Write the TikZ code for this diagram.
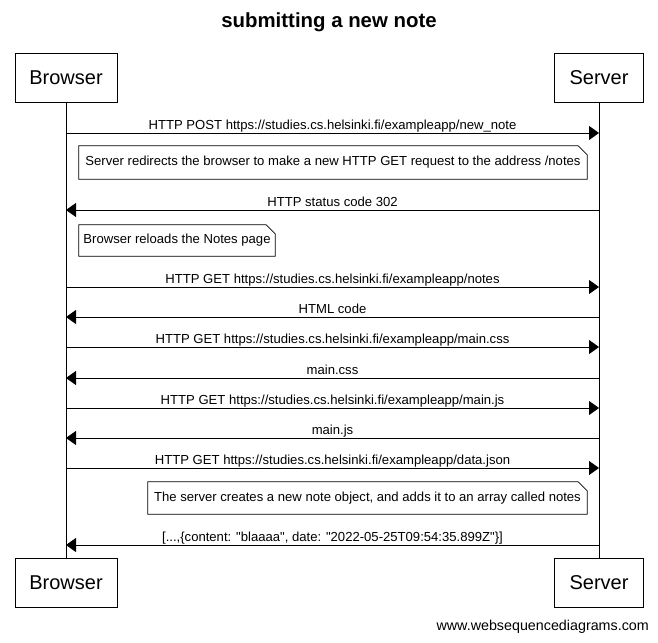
\documentclass[tikz,border=0pt]{standalone}
\usepackage{fontspec}
\setmainfont{Liberation Sans}
\usetikzlibrary{arrows.meta}
\tikzset{
  part/.style={draw, line width=0.8pt, minimum width=102pt, minimum height=49pt, inner sep=0pt, font=\fontsize{20}{24}\selectfont},
  partS/.style={part, minimum width=89pt},
  msg/.style={line width=0.8pt, -{Triangle[length=10pt,width=14pt]}},
  lbl/.style={font=\fontsize{13.1}{15}\selectfont, inner sep=0pt, anchor=base, yshift=3.5pt},
  notebox/.style={inner sep=0pt, font=\fontsize{13.1}{15}\selectfont},
  noteline/.style={draw, line width=0.8pt},
  life/.style={line width=0.8pt}
}
\newcommand{\notedraw}[1]{\draw[noteline] (#1.north west) -- ([xshift=-9pt]#1.north east) -- ([yshift=-9pt]#1.north east) -- (#1.south east) -- (#1.south west) -- cycle;}
\begin{document}
\begin{tikzpicture}[x=1pt,y=-1pt]
\useasboundingbox (0,0) rectangle (658,642);
\fill[white] (0,0) rectangle (658,642);
\node[font=\bfseries\fontsize{20.4}{24}\selectfont] (title) at (329,22) {submitting a new note};
% participants
\node[part] (bT) at (66,77.5) {Browser};
\node[partS] (sT) at (599,77.5) {Server};
\node[part] (bB) at (66,583) {Browser};
\node[partS] (sB) at (599,583) {Server};
\draw[life] (bT.south) -- (bB.north);
\draw[life] (sT.south) -- (sB.north);
% message coordinates
\foreach \n/\y in {1/133,2/210,3/287,4/317,5/347,6/378,7/408,8/438,9/468,10/545}{
  \coordinate (b\n) at (66,\y);
  \coordinate (s\n) at (599,\y);
}
\draw[msg] (b1) -- (s1) node[lbl, midway] (l1) {HTTP POST https://studies.cs.helsinki.fi/exampleapp/new\_note};
\node[notebox, minimum width=508pt, minimum height=33pt] (n1) at (333,162.5) {Server redirects the browser to make a new HTTP GET request to the address /notes};
\notedraw{n1}
\draw[msg] (s2) -- (b2) node[lbl, midway] (l2) {HTTP status code 302};
\node[notebox, minimum width=196pt, minimum height=31pt] (n2) at (177,240.5) {Browser reloads the Notes page};
\notedraw{n2}
\draw[msg] (b3) -- (s3) node[lbl, midway] (l3) {HTTP GET https://studies.cs.helsinki.fi/exampleapp/notes};
\draw[msg] (s4) -- (b4) node[lbl, midway] (l4) {HTML code};
\draw[msg] (b5) -- (s5) node[lbl, midway] (l5) {HTTP GET https://studies.cs.helsinki.fi/exampleapp/main.css};
\draw[msg] (s6) -- (b6) node[lbl, midway] (l6) {main.css};
\draw[msg] (b7) -- (s7) node[lbl, midway] (l7) {HTTP GET https://studies.cs.helsinki.fi/exampleapp/main.js};
\draw[msg] (s8) -- (b8) node[lbl, midway] (l8) {main.js};
\draw[msg] (b9) -- (s9) node[lbl, midway] (l9) {HTTP GET https://studies.cs.helsinki.fi/exampleapp/data.json};
\node[notebox, minimum width=439pt, minimum height=32pt] (n3) at (367.5,498) {The server creates a new note object, and adds it to an array called notes};
\notedraw{n3}
\draw[msg] (s10) -- (b10) node[lbl, midway] (l10) {[...,\{content: \textquotedbl blaaaa\textquotedbl, date: \textquotedbl 2022-05-25T09:54:35.899Z\textquotedbl\}]};
\node[font=\fontsize{14.3}{16}\selectfont, anchor=east, inner sep=0pt] (foot) at (649,627) {www.websequencediagrams.com};
\end{tikzpicture}
\end{document}
